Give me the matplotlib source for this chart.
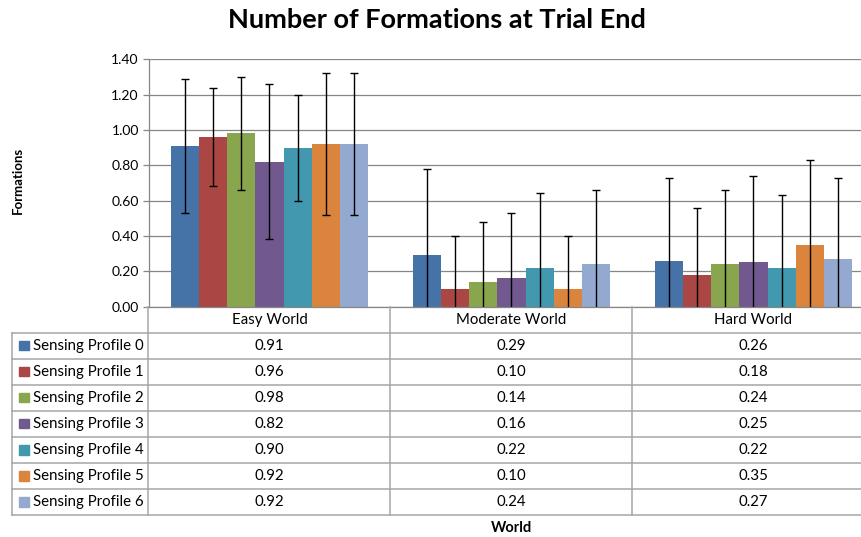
import matplotlib
matplotlib.use('Agg')
import matplotlib.pyplot as plt
import numpy as np

plt.rcParams['font.family'] = ['Lato', 'DejaVu Sans']

# Data
worlds = ['Easy World', 'Moderate World', 'Hard World']
profiles = ['Sensing Profile 0', 'Sensing Profile 1', 'Sensing Profile 2', 'Sensing Profile 3',
            'Sensing Profile 4', 'Sensing Profile 5', 'Sensing Profile 6']
easy = [0.91, 0.96, 0.98, 0.82, 0.90, 0.92, 0.92]
moderate = [0.29, 0.10, 0.14, 0.16, 0.22, 0.10, 0.24]
hard = [0.26, 0.18, 0.24, 0.25, 0.22, 0.35, 0.27]
err_easy = [0.38, 0.28, 0.32, 0.44, 0.30, 0.40, 0.40]
err_moderate = [0.49, 0.30, 0.34, 0.37, 0.42, 0.30, 0.42]
err_hard = [0.47, 0.38, 0.42, 0.49, 0.41, 0.48, 0.46]
colors = ['#4572A7', '#AA4643', '#89A54E', '#71588F', '#4198AF', '#DB843D', '#93A9CF']

values = np.array([easy, moderate, hard]).T      # rows = profiles
errors = np.array([err_easy, err_moderate, err_hard]).T

W, H = 862, 537
fig = plt.figure(figsize=(W / 100, H / 100), dpi=100)

def fx(px):
    return px / W

def fy(py):
    return 1 - py / H

# plot area in pixels (right category runs slightly past the image edge)
left, right, top, bottom = 148.5, 874.5, 59.3, 306.5
ax = fig.add_axes([fx(left), fy(bottom), fx(right - left), (bottom - top) / H])

grid_c = '#868686'
x = np.arange(len(worlds))
bw = 0.1166
for i, name in enumerate(profiles):
    pos = x + (i - 3) * bw
    ax.bar(pos, values[i], width=bw, color=colors[i], zorder=2)
    ax.errorbar(pos, values[i], yerr=errors[i], fmt='none', ecolor='black',
                elinewidth=1.0, capsize=3.2, capthick=1.0, zorder=3)

ax.set_xlim(-0.5, 2.5)
ax.set_ylim(0, 1.4)
ax.set_yticks(np.arange(0, 1.41, 0.2))
ax.set_yticklabels([f'{v:.2f}' for v in np.arange(0, 1.41, 0.2)], fontsize=10)
ax.yaxis.grid(True, color=grid_c, linewidth=0.9, zorder=0)
ax.set_xticks([])
ax.tick_params(axis='y', length=4, color=grid_c, width=0.9, pad=3)
for s in ['top', 'right']:
    ax.spines[s].set_visible(False)
ax.spines['left'].set_color(grid_c)
ax.spines['bottom'].set_color(grid_c)
ax.spines['left'].set_linewidth(0.9)
ax.spines['bottom'].set_linewidth(0.9)

# data table below the plot
tab = fig.add_axes([0, 0, 1, 1], facecolor='none')
tab.set_xlim(0, W)
tab.set_ylim(H, 0)
tab.axis('off')

cat_w = (right - left) / len(worlds)
row_h = 26.1
head_top = bottom
rows_top = bottom + row_h
tab_bottom = rows_top + row_h * len(profiles)
lab_left = 12.5
line_kw = dict(color='#a6a6a6', linewidth=1.1)
fs = 10.8

# header row vertical lines and category names
for j in range(len(worlds) + 1):
    xx = left + j * cat_w
    tab.plot([xx, xx], [head_top, tab_bottom], **line_kw)
for j, w in enumerate(worlds):
    tab.text(left + (j + 0.5) * cat_w, head_top + row_h / 2, w, ha='center', va='center', fontsize=fs)

# horizontal row lines
tab.plot([lab_left, lab_left], [rows_top, tab_bottom], **line_kw)
for r in range(len(profiles) + 1):
    yy = rows_top + r * row_h
    tab.plot([lab_left, right], [yy, yy], **line_kw)

for i, name in enumerate(profiles):
    yc = rows_top + (i + 0.5) * row_h
    tab.add_patch(plt.Rectangle((19.5, yc - 5), 9.5, 9.5, color=colors[i]))
    tab.text(33, yc, name, ha='left', va='center', fontsize=fs)
    for j in range(len(worlds)):
        tab.text(left + (j + 0.5) * cat_w, yc, f'{values[i, j]:.2f}', ha='center', va='center', fontsize=fs)

fig.text(fx(437), fy(20), 'Number of Formations at Trial End', ha='center', va='center',
         fontsize=19.5, fontweight='bold')
fig.text(fx(18), fy(180), 'Formations', ha='center', va='center', rotation=90,
         fontsize=9.5, fontweight='bold')
fig.text(fx(512), fy(528), 'World', ha='center', va='center', fontsize=10.5, fontweight='bold')

fig.savefig('out.png', dpi=100)
